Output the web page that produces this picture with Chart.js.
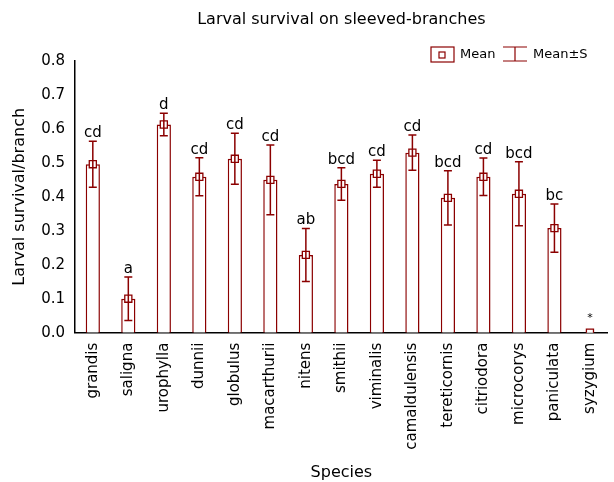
<!DOCTYPE html>
<html>
<head>
<meta charset="utf-8">
<script src="https://cdn.jsdelivr.net/npm/chart.js@4"></script>
<style>
  html, body { margin: 0; padding: 0; background: #fff; }
  #wrap { width: 614px; height: 482px; }
</style>
</head>
<body>
<div id="wrap"><canvas id="chart"></canvas></div>
<script>
const species = ['grandis', 'saligna', 'urophylla', 'dunnii', 'globulus', 'macarthurii', 'nitens',
  'smithii', 'viminalis', 'camaldulensis', 'tereticornis', 'citriodora', 'microcorys', 'paniculata', 'syzygium'];
const means = [0.496, 0.100, 0.613, 0.459, 0.512, 0.450, 0.229, 0.438, 0.468, 0.530, 0.397, 0.459, 0.409, 0.308, 0.0];
const errors = [0.068, 0.064, 0.033, 0.056, 0.075, 0.103, 0.078, 0.048, 0.040, 0.052, 0.080, 0.055, 0.094, 0.071, 0.0];
const letters = ['cd', 'a', 'd', 'cd', 'cd', 'cd', 'ab', 'bcd', 'cd', 'cd', 'bcd', 'cd', 'bcd', 'bc', '*'];
const yTicks = [0, 0.1, 0.2, 0.3, 0.4, 0.5, 0.6, 0.7, 0.8];

const red = '#8b0000';
const font = 'DejaVu Sans, sans-serif';

// error bars, letters, title and legend
const extras = {
  id: 'extras',
  afterDatasetsDraw(chart) {
    const ctx = chart.ctx;
    const x = chart.scales.x, y = chart.scales.y;
    ctx.save();
    ctx.strokeStyle = red;
    ctx.lineWidth = 1.5;
    means.forEach((m, i) => {
      if (errors[i] <= 0) return;
      const px = x.getPixelForValue(i);
      const top = y.getPixelForValue(m + errors[i]);
      const bot = y.getPixelForValue(m - errors[i]);
      ctx.beginPath();
      ctx.moveTo(px, top); ctx.lineTo(px, bot);
      ctx.moveTo(px - 4, top); ctx.lineTo(px + 4, top);
      ctx.moveTo(px - 4, bot); ctx.lineTo(px + 4, bot);
      ctx.stroke();
    });
    ctx.fillStyle = '#000';
    ctx.textAlign = 'center';
    ctx.textBaseline = 'alphabetic';
    letters.forEach((t, i) => {
      const px = x.getPixelForValue(i);
      if (t === '*') {
        ctx.font = '11px ' + font;
        ctx.fillText(t, px, y.getPixelForValue(0) - 12);
        return;
      }
      ctx.font = '15px ' + font;
      ctx.fillText(t, px, y.getPixelForValue(means[i] + errors[i]) - 4);
    });
    ctx.restore();
  },
  afterDraw(chart) {
    const ctx = chart.ctx;
    const area = chart.chartArea;
    ctx.save();
    ctx.fillStyle = '#000';
    ctx.font = '16px ' + font;
    ctx.textAlign = 'center';
    ctx.textBaseline = 'middle';
    ctx.fillText('Larval survival on sleeved-branches', (area.left + area.right) / 2, 20);

    // legend
    const ly = 54;
    ctx.strokeStyle = red;
    ctx.lineWidth = 1.2;
    ctx.strokeRect(431, ly - 7, 23, 15);
    ctx.fillStyle = '#fff';
    ctx.fillRect(439, ly - 2, 6, 6);
    ctx.strokeRect(439, ly - 2, 6, 6);
    ctx.beginPath();
    ctx.moveTo(503, ly - 7); ctx.lineTo(527, ly - 7);
    ctx.moveTo(515, ly - 7); ctx.lineTo(515, ly + 7);
    ctx.moveTo(503, ly + 7); ctx.lineTo(527, ly + 7);
    ctx.stroke();
    ctx.fillStyle = '#000';
    ctx.font = '13px ' + font;
    ctx.textAlign = 'left';
    ctx.fillText('Mean', 460, ly + 1);
    ctx.fillText('Mean\u00b1S', 533, ly + 1);
    ctx.restore();
  }
};

new Chart(document.getElementById('chart'), {
  data: {
    labels: species,
    datasets: [
      {
        type: 'line',
        data: means,
        showLine: false,
        pointStyle: 'rect',
        pointRadius: 5,
        pointBackgroundColor: '#fff',
        pointBorderColor: red,
        pointBorderWidth: 1.3,
        order: 0
      },
      {
        type: 'bar',
        data: means,
        backgroundColor: '#fff',
        borderColor: red,
        borderWidth: 1.5,
        borderSkipped: 'start',
        categoryPercentage: 1,
        barPercentage: 0.4,
        order: 1
      }
    ]
  },
  options: {
    responsive: true,
    maintainAspectRatio: false,
    animation: false,
    layout: { padding: { top: 61, right: 0, left: 6, bottom: 0 } },
    plugins: { legend: { display: false }, tooltip: { enabled: false } },
    scales: {
      x: {
        grid: { display: false, drawTicks: true, tickLength: 5, color: '#000' },
        border: { display: true, color: '#000', width: 1.5 },
        ticks: { color: '#000', font: { family: font, size: 15 }, minRotation: 90, maxRotation: 90, padding: 5 },
        title: { display: true, text: 'Species', color: '#000', font: { family: font, size: 16 }, padding: { top: 8, bottom: 0 } }
      },
      y: {
        min: 0,
        max: 0.8,
        afterBuildTicks(scale) { scale.ticks = yTicks.map(v => ({ value: v })); },
        grid: { display: false, drawTicks: true, tickLength: 4, color: '#000' },
        border: { display: true, color: '#000', width: 1.5 },
        ticks: { color: '#000', font: { family: font, size: 15 }, padding: 6, callback: v => v.toFixed(1) },
        title: { display: true, text: 'Larval survival/branch', color: '#000', font: { family: font, size: 16 }, padding: { bottom: 6 } }
      }
    }
  },
  plugins: [extras]
});
</script>
</body>
</html>
